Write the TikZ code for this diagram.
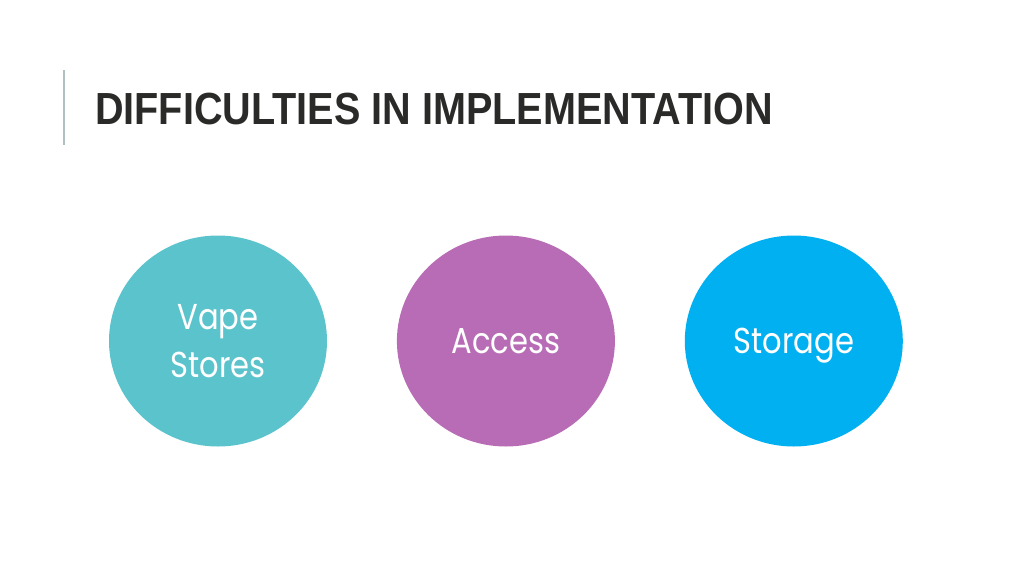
\documentclass[tikz,border=0pt]{standalone}
\usepackage{xcolor}
\usepackage{fontspec}
\usepackage{tikz}
\usetikzlibrary{shapes,positioning}

\newfontfamily\titlefont{Liberation Sans}[FakeStretch=0.88]
\newfontfamily\bubblefont{Poppins}[FakeStretch=0.85]

\definecolor{titlegray}{HTML}{2A2A28}
\definecolor{barline}{HTML}{AFC0C3}
\definecolor{vapeteal}{HTML}{5BC3CC}
\definecolor{accesspurple}{HTML}{B86CB5}
\definecolor{storageblue}{HTML}{00B0F0}

\begin{document}
\begin{tikzpicture}[x=1pt, y=-1pt, node distance=69.5pt]
                    % Define styles
                    \tikzstyle{bubble} = [ellipse, minimum width=218pt, minimum height=211pt, inner sep=0pt, text depth=0pt, text=white, align=center, font=\bubblefont\fontsize{36}{48}\selectfont]
                    \tikzstyle{heading} = [anchor=base west, inner sep=0pt, text=titlegray, font=\titlefont\bfseries\fontsize{45}{50}\selectfont]

                    \useasboundingbox (0,0) rectangle (1024,576);

                    % Title
                    \coordinate (bartop) at (64,70);
                    \coordinate (barbottom) at (64,145);
                    \draw [barline, line width=1.6pt] (bartop) -- (barbottom);
                    \node [heading] (title) at (95,124) {DIFFICULTIES IN IMPLEMENTATION};

                    % Nodes
                    \node [bubble, fill=vapeteal] (vape) at (218,341) {Vape\\Stores};
                    \node [bubble, fill=accesspurple, right=of vape] (access) {Access};
                    \node [bubble, fill=storageblue, right=of access] (storage) {Storage};
                \end{tikzpicture}
\end{document}
